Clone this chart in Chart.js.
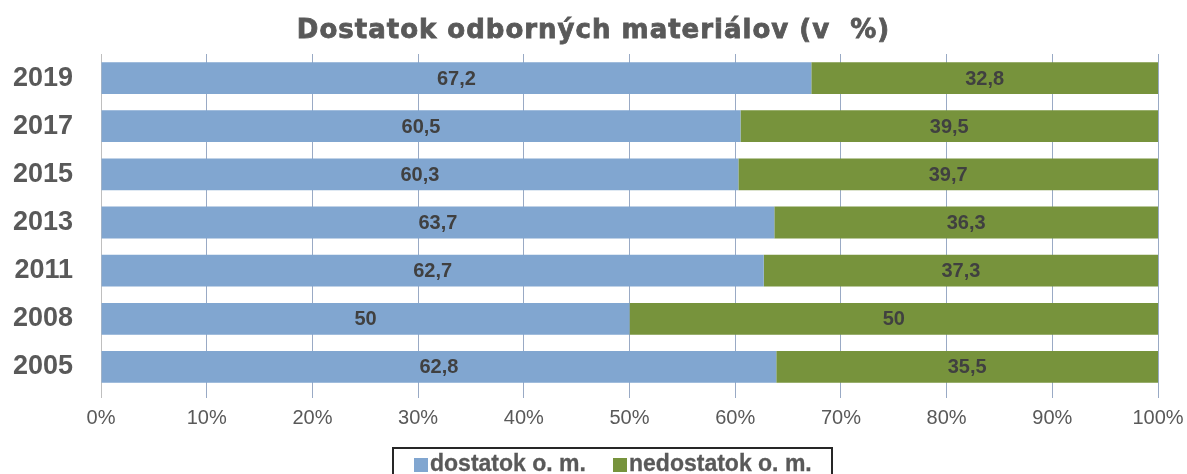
<!DOCTYPE html>
<html>
<head>
<meta charset="utf-8">
<script src="https://cdn.jsdelivr.net/npm/chart.js@4"></script>
<style>
  html, body { margin: 0; padding: 0; background: #fff; overflow: hidden; }
  #wrap { position: relative; width: 1187px; height: 474px; }
  #title { position: absolute; left: 0; top: 14px; width: 1187px; text-align: center; white-space: pre;
    font: bold 26px "DejaVu Sans", sans-serif; color: #595959; letter-spacing: 1px;
    -webkit-text-stroke: 0.8px #595959; }
  #legend { position: absolute; left: 392px; top: 447px; width: 441px; height: 40px;
    border: 2px solid #262626; box-sizing: border-box; font: bold 23px "Liberation Sans", Arial, sans-serif;
    color: #595959; white-space: nowrap; }
  #legend span.sw { position: absolute; top: 9px; width: 14px; height: 14px; }
  #legend span.tx { position: absolute; top: 0px; line-height: 28px; -webkit-text-stroke: 0.3px #595959; }
</style>
</head>
<body>
<div id="wrap">
  <canvas id="c" width="1187" height="474"></canvas>
  <div id="title">Dostatok odborných materiálov (v  %)</div>
  <div id="legend"></div>
</div>
<script>
const years = ['2019', '2017', '2015', '2013', '2011', '2008', '2005'];
const dostatok = [67.2, 60.5, 60.3, 63.7, 62.7, 50, 62.8];
const nedostatok = [32.8, 39.5, 39.7, 36.3, 37.3, 50, 35.5];
const seriesNames = ['dostatok o. m.', 'nedostatok o. m.'];
const xTicks = [0, 10, 20, 30, 40, 50, 60, 70, 80, 90, 100];

const colors = ['#81a6d0', '#77933c'];
const rawSeries = [dostatok, nedostatok];
const totals = years.map((_, i) => dostatok[i] + nedostatok[i]);

// legend (HTML, real text)
const lg = document.getElementById('legend');
lg.innerHTML =
  '<span class="sw" style="left:20px;background:' + colors[0] + '"></span>' +
  '<span class="tx" style="left:36px">' + seriesNames[0] + '</span>' +
  '<span class="sw" style="left:219px;background:' + colors[1] + '"></span>' +
  '<span class="tx" style="left:235px">' + seriesNames[1] + '</span>';

const fmt = v => String(v).replace('.', ',');

const labelPlugin = {
  id: 'barLabels',
  afterDraw(chart) {
    const ctx = chart.ctx;
    ctx.save();
    ctx.font = 'bold 20px "Liberation Sans", Arial, sans-serif';
    ctx.fillStyle = '#404040';
    ctx.textAlign = 'center';
    ctx.textBaseline = 'middle';
    chart.data.datasets.forEach((ds, di) => {
      const meta = chart.getDatasetMeta(di);
      meta.data.forEach((bar, i) => {
        const left = Math.min(bar.x, bar.base);
        const right = Math.max(bar.x, bar.base);
        ctx.fillText(fmt(rawSeries[di][i]), (left + right) / 2, bar.y + 1);
      });
    });
    ctx.restore();
  }
};

new Chart(document.getElementById('c'), {
  type: 'bar',
  data: {
    labels: years,
    datasets: rawSeries.map((arr, di) => ({
      label: seriesNames[di],
      data: arr.map((v, i) => v / totals[i] * 100),
      backgroundColor: colors[di],
      borderWidth: 0,
      barPercentage: 0.66,
      categoryPercentage: 1.0
    }))
  },
  options: {
    indexAxis: 'y',
    responsive: false,
    animation: false,
    devicePixelRatio: 1,
    layout: { padding: { top: 54, right: 29, bottom: 33, left: 0 } },
    plugins: {
      legend: { display: false },
      title: { display: false },
      tooltip: { enabled: false }
    },
    scales: {
      x: {
        stacked: true,
        min: 0, max: 100,
        z: 1,
        afterBuildTicks: s => { s.ticks = xTicks.map(v => ({ value: v })); },
        afterFit: s => { s.height = 50; s.paddingLeft = 0; s.paddingRight = 0; },
        grid: {
          color: ctx => ctx.index === 0 ? '#bfbfbf' : 'rgba(70,100,150,0.55)',
          lineWidth: 1,
          tickLength: 7,
          drawTicks: true
        },
        border: { display: false },
        ticks: {
          padding: 8,
          color: '#595959',
          font: { family: '"Liberation Sans", Arial, sans-serif', size: 20 },
          callback: v => v + '%'
        }
      },
      y: {
        stacked: true,
        afterFit: s => { s.width = 101; },
        grid: { display: false, drawTicks: false },
        border: { display: false },
        ticks: {
          padding: 28,
          color: '#595959',
          font: { family: '"Liberation Sans", Arial, sans-serif', size: 27, weight: 'bold' }
        }
      }
    }
  },
  plugins: [labelPlugin]
});
</script>
</body>
</html>
